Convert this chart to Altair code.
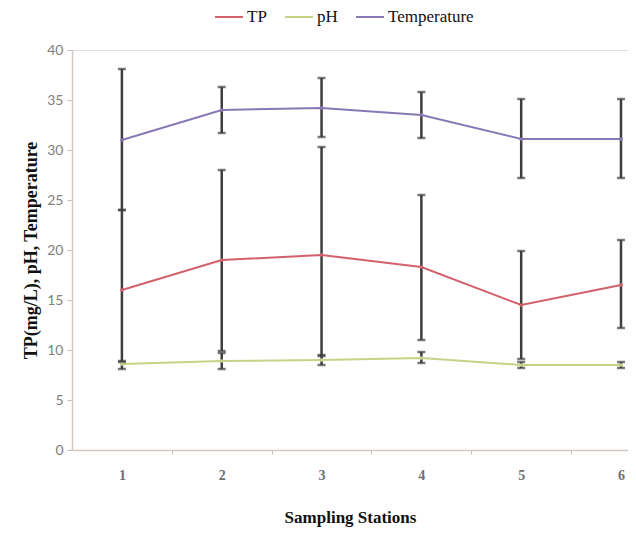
import altair as alt
import pandas as pd

stations = [1, 2, 3, 4, 5, 6]
series_names = ["TP", "pH", "Temperature"]
series_colors = ["#d2616b", "#c3d486", "#8878b6"]

tp_mean = [16.0, 19.0, 19.5, 18.3, 14.5, 16.5]
tp_upper = [24.0, 28.0, 30.3, 25.5, 19.9, 21.0]
tp_lower = [8.8, 9.9, 9.4, 11.0, 9.1, 12.2]

ph_mean = [8.6, 8.9, 9.0, 9.2, 8.5, 8.5]
ph_upper = [8.9, 9.7, 9.5, 9.8, 8.8, 8.8]
ph_lower = [8.1, 8.1, 8.5, 8.7, 8.2, 8.2]

temp_mean = [31.0, 34.0, 34.2, 33.5, 31.1, 31.1]
temp_upper = [38.1, 36.3, 37.2, 35.8, 35.1, 35.1]
temp_lower = [24.0, 31.7, 31.3, 31.2, 27.2, 27.2]

x_ticks = [1, 1.5, 2, 2.5, 3, 3.5, 4, 4.5, 5, 5.5, 6]
y_ticks = [0, 5, 10, 15, 20, 25, 30, 35, 40]

rows = []
for name, m, u, l in [("TP", tp_mean, tp_upper, tp_lower),
                      ("pH", ph_mean, ph_upper, ph_lower),
                      ("Temperature", temp_mean, temp_upper, temp_lower)]:
    for s, mv, uv, lv in zip(stations, m, u, l):
        rows.append({"station": s, "series": name, "mean": mv, "upper": uv, "lower": lv})
df = pd.DataFrame(rows)

xscale = alt.Scale(domain=[0.5, 6.07], nice=False, zero=False)
yscale = alt.Scale(domain=[0, 40], nice=False)

xaxis = alt.Axis(
    values=x_ticks,
    labelExpr="datum.value % 1 == 0 ? format(datum.value, 'd') : ''",
    tickOpacity={"condition": {"test": "datum.value % 1 == 0", "value": 0}, "value": 1},
    tickSize=4, tickColor="#c9bcb4", domainColor="#d8c8c2", domainWidth=1.5,
    labelFont="Liberation Serif", labelFontWeight="bold", labelFontSize=14,
    labelColor="#707070", labelPadding=14, grid=False,
    title="Sampling Stations", titleFont="Liberation Serif", titleFontSize=17,
    titleFontWeight="bold", titleColor="#111111", titlePadding=27,
)
yaxis = alt.Axis(
    values=y_ticks, tickSize=5, tickColor="#c9bcb4", domainColor="#d8c8c2", domainWidth=1.5,
    labelFont="Lato", labelFontSize=14, labelColor="#808080", labelPadding=4, grid=False,
    title="TP(mg/L), pH, Temperature", titleFont="Liberation Serif", titleFontSize=18,
    titleFontWeight="bold", titleColor="#111111", titlePadding=6,
)

base = alt.Chart(df)

lines = base.mark_line(strokeWidth=2).encode(
    x=alt.X("station:Q", scale=xscale, axis=xaxis),
    y=alt.Y("mean:Q", scale=yscale, axis=yaxis),
    color=alt.Color("series:N", scale=alt.Scale(domain=series_names, range=series_colors),
                    sort=series_names,
                    legend=alt.Legend(orient="none", legendX=142, legendY=-48, direction="horizontal",
                                      title=None, symbolType="stroke", symbolSize=780,
                                      symbolStrokeWidth=2, labelFont="Liberation Serif",
                                      labelFontSize=17, labelColor="#111111", columnPadding=14,
                                      labelOffset=3)),
)

points = base.mark_point(filled=True, size=14, opacity=1).encode(
    x=alt.X("station:Q", scale=xscale),
    y=alt.Y("mean:Q", scale=yscale),
    color=alt.Color("series:N", scale=alt.Scale(domain=series_names, range=series_colors), legend=None),
)

rules = base.mark_rule(color="#3e3e3e", strokeWidth=2.5).encode(
    x=alt.X("station:Q", scale=xscale),
    y=alt.Y("lower:Q", scale=yscale),
    y2="upper:Q",
)

cap_up = base.mark_tick(color="#3e3e3e", orient="horizontal", size=8, thickness=2.5).encode(
    x=alt.X("station:Q", scale=xscale),
    y=alt.Y("upper:Q", scale=yscale),
)
cap_lo = base.mark_tick(color="#3e3e3e", orient="horizontal", size=8, thickness=2.5).encode(
    x=alt.X("station:Q", scale=xscale),
    y=alt.Y("lower:Q", scale=yscale),
)

chart = alt.layer(lines, rules, cap_up, cap_lo, points).properties(
    width=556, height=400,
    autosize=alt.AutoSizeParams(type="none"),
    padding={"left": 64, "top": 42, "right": 0, "bottom": 82},
).configure_view(stroke=None).configure(background="white")

chart.save("out.html", embed_options={"renderer": "svg", "actions": False})
